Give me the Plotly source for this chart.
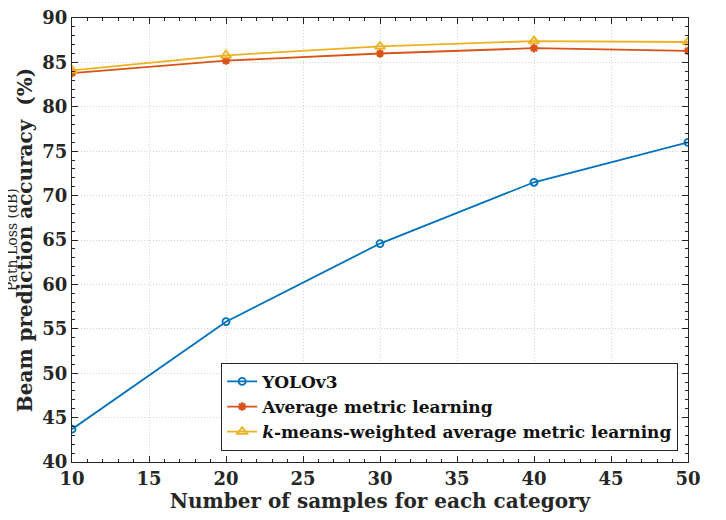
import plotly.graph_objects as go

samples = [10, 20, 30, 40, 50]
yolo = [43.7, 55.8, 64.6, 71.5, 76.0]
avg_ml = [83.8, 85.2, 86.0, 86.6, 86.3]
kmeans_ml = [84.1, 85.8, 86.8, 87.4, 87.3]

names = ["<b>YOLOv3</b>", "<b>Average metric learning</b>",
         "<b><i>k</i>-means-weighted average metric learning</b>"]
x_ticks = [10, 15, 20, 25, 30, 35, 40, 45, 50]
y_ticks = [40, 45, 50, 55, 60, 65, 70, 75, 80, 85, 90]

FONT = "DejaVu Serif"

fig = go.Figure()
fig.add_trace(go.Scatter(x=samples, y=yolo, name=names[0], mode="lines+markers",
                         line=dict(color="#0072BD", width=1.8),
                         marker=dict(symbol="circle-open", size=7, line=dict(width=1.8, color="#0072BD"))))
fig.add_trace(go.Scatter(x=samples, y=avg_ml, name=names[1], mode="lines+markers",
                         line=dict(color="#D95319", width=1.8),
                         marker=dict(symbol="asterisk-open", size=7, line=dict(width=2.2, color="#D95319"))))
fig.add_trace(go.Scatter(x=samples, y=kmeans_ml, name=names[2], mode="lines+markers",
                         line=dict(color="#EDB120", width=1.8),
                         marker=dict(symbol="triangle-up-open", size=9, line=dict(width=1.8, color="#EDB120"))))

axis_common = dict(
    showline=True, linecolor="#262626", linewidth=1.2, mirror="ticks",
    ticks="inside", ticklen=6, tickwidth=1, tickcolor="#262626",
    showgrid=True, gridcolor="#d4d4d4", griddash="1px,2px", gridwidth=1,
    zeroline=False, automargin=False, ticklabeloverflow="allow",
    tickfont=dict(family=FONT, size=18, color="#262626", weight="bold"),
    minor=dict(ticks="inside", ticklen=3, tickcolor="#262626", showgrid=False),
)

fig.update_xaxes(**axis_common, range=[10, 50], tickvals=x_ticks,
                 title=dict(text="<b>Number of samples for each category</b>",
                            font=dict(family=FONT, size=20, color="#262626"), standoff=6))
fig.update_xaxes(minor_dtick=1)
fig.update_yaxes(**axis_common, range=[40, 90], tickvals=y_ticks,
                 title=dict(text="<b>Beam prediction accuracy  (%)</b>",
                            font=dict(family=FONT, size=20, color="#262626"), standoff=4))
fig.update_yaxes(minor_dtick=1)

fig.add_annotation(text="Path Loss (dB)", xref="paper", yref="paper",
                   x=-0.097, y=0.5, xanchor="center", yanchor="middle",
                   textangle=-90, showarrow=False,
                   font=dict(family=FONT, size=14, color="#262626"))

fig.update_layout(
    width=726, height=520,
    margin=dict(l=64, r=46, t=10, b=66, autoexpand=False),
    plot_bgcolor="white", paper_bgcolor="white",
    showlegend=True,
    legend=dict(x=0.984, y=0.025, xanchor="right", yanchor="bottom",
                bgcolor="white", bordercolor="#262626", borderwidth=1,
                font=dict(family=FONT, size=17, color="#111111"),
                tracegroupgap=0, itemwidth=30),
)

fig.write_html("out.html")
